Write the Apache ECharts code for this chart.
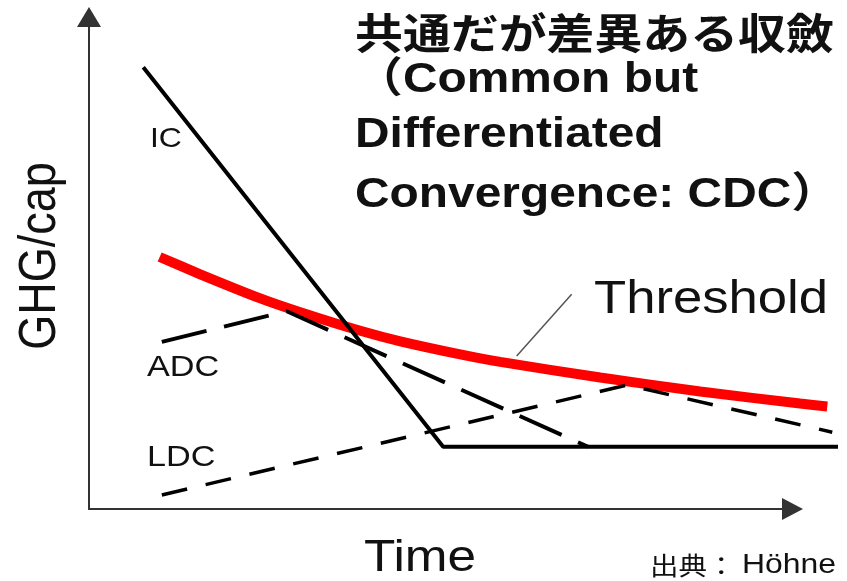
<!DOCTYPE html>
<html>
<head>
<meta charset="utf-8">
<script src="https://cdn.jsdelivr.net/npm/echarts@6/dist/echarts.min.js"></script>
<style>
  html, body { margin: 0; padding: 0; background: #fff; }
  #main { width: 847px; height: 581px; }
</style>
</head>
<body>
<div id="main"></div>
<script>
// 数据 (time 0-100, GHG/cap 0-100, schematic units)
var icData = [[7.6, 88.0], [49.6, 12.4], [104.9, 12.4]];
var adcData = [[10.2, 33.3], [27.7, 39.4], [69.9, 12.4]];
var ldcData = [[10.2, 2.8], [75.4, 24.7], [104.1, 15.3]];
var thresholdData = [
    [9.9, 50.2], [15.5, 46.8], [23.9, 42.0], [29.6, 39.2], [38.0, 35.5],
    [43.6, 33.4], [52.0, 30.8], [57.6, 29.3], [71.6, 26.2], [85.6, 23.4],
    [99.6, 21.0], [103.4, 20.4]
];
var pointerData = [[59.9, 30.5], [67.6, 42.8]];

var titleLines = ['共通だが差異ある収斂', '（Common but', 'Differentiated', 'Convergence: CDC）'];

var latin = '"Liberation Sans", Arial, "Noto Sans CJK JP", sans-serif';
var cjk = '"Noto Sans CJK JP", "Liberation Sans", sans-serif';

var chartDom = document.getElementById('main');
var myChart = echarts.init(chartDom);

function label(text, x, y, size, opts) {
    opts = opts || {};
    return {
        type: 'text',
        x: x,
        y: y,
        scaleX: opts.scaleX || 1.14,
        scaleY: opts.scaleY || 1,
        rotation: opts.rotation || 0,
        style: {
            text: text,
            fontSize: size,
            fontWeight: opts.bold ? 'bold' : 'normal',
            fontFamily: opts.font || latin,
            fill: opts.color || '#111',
            align: opts.align || 'left',
            verticalAlign: 'middle'
        },
        z: 10
    };
}

var graphics = [
    label(titleLines[0], 355, 33, 42, { bold: true, font: cjk }),
    label(titleLines[1], 355, 80, 42, { bold: true }),
    label(titleLines[2], 355, 135, 42, { bold: true }),
    label(titleLines[3], 355, 195, 42, { bold: true }),
    label('IC', 150, 139, 28),
    label('ADC', 147, 368, 30),
    label('LDC', 147, 458, 30),
    label('Threshold', 594, 300, 47, { scaleX: 1.12 }),
    label('Time', 420, 559, 45, { align: 'center' }),
    label('出典：', 650, 565, 25, { font: cjk }),
    label('Höhne', 742, 565, 28),
    label('GHG/cap', 41, 256, 45, { align: 'center', rotation: Math.PI / 2, scaleX: 1, scaleY: 1.14 })
];

var hiddenAxis = {
    axisLine: { show: false },
    axisTick: { show: false },
    axisLabel: { show: false },
    splitLine: { show: false }
};

function arrowAxis(size) {
    return {
        type: 'value', min: 0, max: 100, gridIndex: 0,
        axisLine: {
            show: true,
            symbol: ['none', 'triangle'],
            symbolSize: size,
            lineStyle: { color: '#333', width: 2 }
        },
        axisTick: { show: false },
        axisLabel: { show: false },
        splitLine: { show: false }
    };
}

var option = {
    animation: false,
    backgroundColor: '#fff',
    // grid 0: only the arrowed axes; grid 1: the lines, wider so they can run past the arrow
    grid: [
        { left: 89, right: 54.5, top: 17, bottom: 72 },
        { left: 89, right: 1.16, top: 7, bottom: 72 }
    ],
    xAxis: [
        arrowAxis([22, 21]),
        Object.assign({ type: 'value', min: 0, max: 106, gridIndex: 1 }, hiddenAxis)
    ],
    yAxis: [
        arrowAxis([24, 20]),
        Object.assign({ type: 'value', min: 0, max: 100, gridIndex: 1 }, hiddenAxis)
    ],
    graphic: graphics,
    series: [
        {
            name: 'Threshold', type: 'line', data: thresholdData,
            xAxisIndex: 1, yAxisIndex: 1,
            symbol: 'none', smooth: 0.2,
            lineStyle: { color: '#ff0000', width: 10 }
        },
        {
            name: 'pointer', type: 'line', data: pointerData,
            xAxisIndex: 1, yAxisIndex: 1,
            symbol: 'none',
            lineStyle: { color: '#555', width: 1.5 }
        },
        {
            name: 'ADC', type: 'line', data: adcData,
            xAxisIndex: 1, yAxisIndex: 1,
            symbol: 'none',
            lineStyle: { color: '#000', width: 4, type: [46, 18] }
        },
        {
            name: 'LDC', type: 'line', data: ldcData,
            xAxisIndex: 1, yAxisIndex: 1,
            symbol: 'none',
            lineStyle: { color: '#000', width: 3.5, type: [26, 19] }
        },
        {
            name: 'IC', type: 'line', data: icData,
            xAxisIndex: 1, yAxisIndex: 1,
            symbol: 'none',
            lineStyle: { color: '#000', width: 4 }
        }
    ]
};

option && myChart.setOption(option);
</script>
</body>
</html>
